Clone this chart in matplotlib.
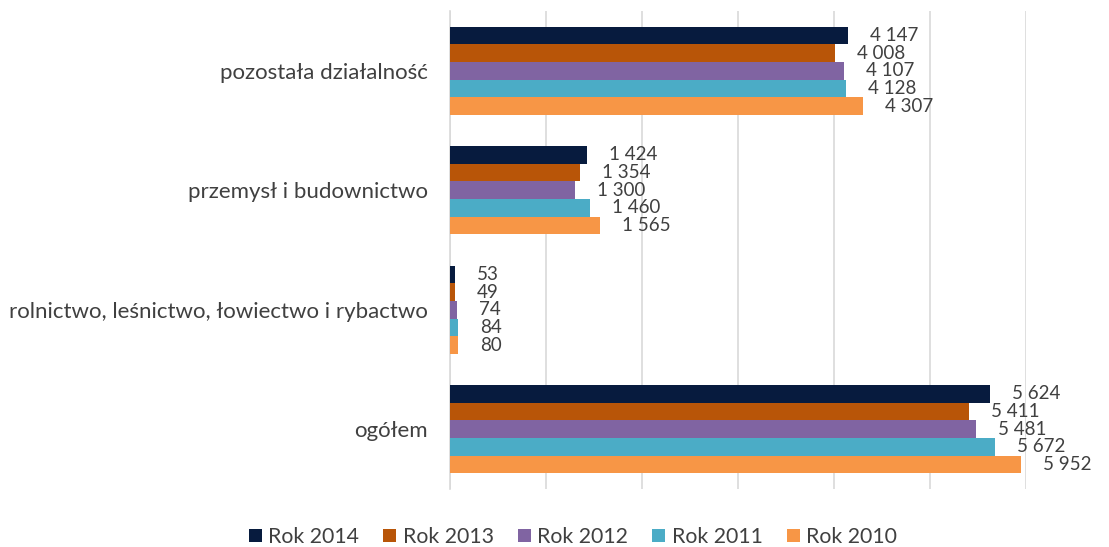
import matplotlib.pyplot as plt
import numpy as np

plt.rcParams['font.family'] = ['Lato', 'DejaVu Sans']

categories = ['pozostała działalność', 'przemysł i budownictwo',
              'rolnictwo, leśnictwo, łowiectwo i rybactwo', 'ogółem']
years = ['Rok 2014', 'Rok 2013', 'Rok 2012', 'Rok 2011', 'Rok 2010']
values = {
    'Rok 2014': [4147, 1424, 53, 5624],
    'Rok 2013': [4008, 1354, 49, 5411],
    'Rok 2012': [4107, 1300, 74, 5481],
    'Rok 2011': [4128, 1460, 84, 5672],
    'Rok 2010': [4307, 1565, 80, 5952],
}
colors = ['#071B3E', '#B85508', '#8064A2', '#4BACC6', '#F79646']
text_color = '#404040'


def fmt(v):
    return f'{v:,}'.replace(',', ' ')


fig = plt.figure(figsize=(11.09, 5.47), dpi=100)
ax = fig.add_axes([450 / 1109, 1 - 489 / 547, 576 / 1109, 478 / 547])

n = len(years)
bar_h = 0.74 / n
y = np.arange(len(categories))
for i, (year, c) in enumerate(zip(years, colors)):
    pos = y - 0.37 + bar_h * (i + 0.5)
    bars = ax.barh(pos, values[year], height=bar_h, color=c, label=year, zorder=3)
    for b, v in zip(bars, values[year]):
        ax.annotate(fmt(v), (b.get_width(), b.get_y() + b.get_height() / 2),
                    xytext=(22, 0), textcoords='offset pixels',
                    va='center', ha='left', fontsize=13.5, color=text_color)

ax.set_xlim(0, 6000)
ax.set_ylim(len(categories) - 0.5, -0.5)
ax.set_xticks(np.arange(0, 6001, 1000))
ax.set_xticklabels([])
ax.set_yticks(y)
ax.set_yticklabels(categories, fontsize=16, color=text_color)
ax.tick_params(axis='y', length=0, pad=16)
ax.tick_params(axis='x', length=0)
ax.grid(axis='x', color='#D9D9D9', linewidth=1.2, zorder=0)
for s in ['top', 'right', 'bottom']:
    ax.spines[s].set_visible(False)
ax.spines['left'].set_color('#D9D9D9')
ax.spines['left'].set_linewidth(1.2)

fig.legend(loc='center', bbox_to_anchor=(573 / 1109, 1 - 537 / 547), ncol=5,
           frameon=False, fontsize=15.3, handlelength=0.6, handleheight=0.6,
           handletextpad=0.3, columnspacing=1.15, labelcolor=text_color,
           borderpad=0.1)

fig.savefig('out.png', dpi=100)
